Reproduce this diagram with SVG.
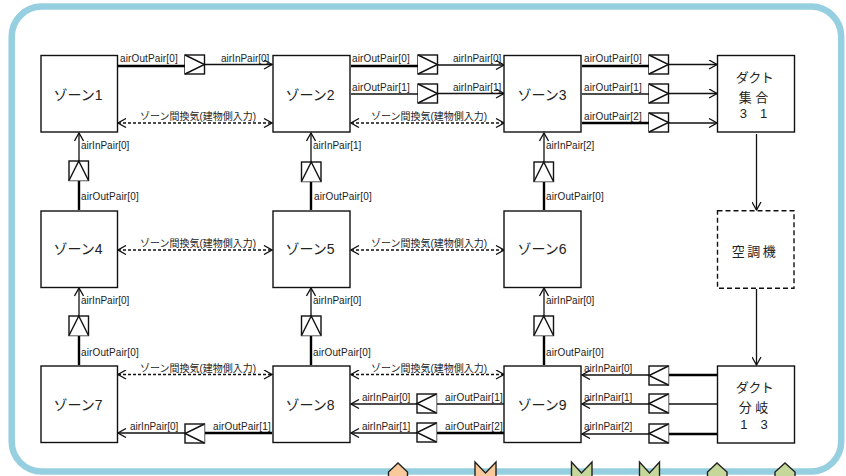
<svg xmlns="http://www.w3.org/2000/svg" width="846" height="476" viewBox="0 0 846 476">
<style>
text{font-family:"Liberation Sans","Noto Sans CJK JP",sans-serif;fill:#222}
.l{font-size:10px}
.u{font-size:10px;letter-spacing:.13px}
.n{font-size:14px;text-anchor:middle}
.s{font-size:13px;text-anchor:middle}
.box{fill:#fff;stroke:#111;stroke-width:1.4}
.v{fill:#fff;stroke:#111;stroke-width:1.4}
.c{fill:none;stroke:#111;stroke-width:1.3}
.t{fill:none;stroke:#000;stroke-width:2.4}
.d{fill:none;stroke:#111;stroke-width:1.3;stroke-dasharray:3 2;marker-start:url(#a);marker-end:url(#a)}
.a{marker-end:url(#a)}
.o{fill:#f9c99b;stroke:#222;stroke-width:1.4}
.g{fill:#c5d89a;stroke:#222;stroke-width:1.4}
</style>
<defs>
<marker id="a" viewBox="0 0 10 10" refX="9" refY="5" markerWidth="10" markerHeight="10" markerUnits="userSpaceOnUse" orient="auto-start-reverse"><path d="M1 0.500L9 5L1 9.500" fill="none" stroke="#111" stroke-width="1.300"/></marker>
<g id="vr"><rect class="v" x="0" y="0" width="19.500" height="19"/><path class="v" d="M0 0L19.500 9.500L0 19"/></g>
<g id="vl"><rect class="v" x="0" y="0" width="19.500" height="19"/><path class="v" d="M19.500 0L0 9.500L19.500 19"/></g>
<g id="vu"><rect class="v" x="0" y="0" width="19.500" height="19.500"/><path class="v" d="M0 19.500L9.750 0L19.500 19.500"/></g>
</defs>
<rect x="11.700" y="6.600" width="829.500" height="465" rx="30" fill="#fff" stroke="#96cfe0" stroke-width="6.500"/>
<g id="connectors">
<path class="t" d="M118 66H185"/><path class="c a" d="M205 64.500H272"/>
<path class="t" d="M351 66H418"/><path class="c a" d="M438 65H504"/>
<path class="c" d="M351 94H418"/><path class="c a" d="M438 93.500H504"/>
<path class="t" d="M582 66H649"/><path class="c a" d="M669 64.500H717"/>
<path class="c" d="M582 94H649"/><path class="c a" d="M669 93.500H717"/>
<path class="t" d="M582 123H649"/><path class="c a" d="M669 123H717"/>
<path class="d" d="M118 123H272"/><path class="d" d="M351 123H504"/>
<path class="d" d="M118 250H272"/><path class="d" d="M351 250H504"/>
<path class="d" d="M118 374.500H272"/><path class="d" d="M351 374.500H504"/>
<path class="t" d="M79 210V181"/><path class="c a" d="M79 161V133"/>
<path class="t" d="M311 210V182"/><path class="c a" d="M311 162V133"/>
<path class="t" d="M544 210V182"/><path class="c a" d="M544 162V133"/>
<path class="t" d="M79 365V336"/><path class="c a" d="M79 316V288"/>
<path class="t" d="M311 365V336"/><path class="c a" d="M311 316V288"/>
<path class="t" d="M544 365V336"/><path class="c a" d="M544 316V288"/>
<path class="c a" d="M756.500 134V210"/><path class="c a" d="M756.500 289V365"/>
<path class="t" d="M272 433H205"/><path class="c a" d="M185 433H118"/>
<path class="c" d="M504 404H437"/><path class="c a" d="M417 404H351"/>
<path class="t" d="M504 433H437"/><path class="c a" d="M417 433H351"/>
<path class="t" d="M717 375H669"/><path class="c a" d="M649 375H582"/>
<path class="c" d="M717 404H669"/><path class="c a" d="M649 404H582"/>
<path class="t" d="M717 434H669"/><path class="c a" d="M649 434H582"/>
<use href="#vr" x="185" y="55"/><use href="#vr" x="418" y="55"/><use href="#vr" x="418" y="84"/>
<use href="#vr" x="649" y="55"/><use href="#vr" x="649" y="84"/><use href="#vr" x="649" y="113"/>
<use href="#vu" x="69" y="161"/><use href="#vu" x="301.500" y="162"/><use href="#vu" x="534" y="162"/>
<use href="#vu" x="69" y="316"/><use href="#vu" x="301.500" y="316"/><use href="#vu" x="534" y="316"/>
<use href="#vl" x="185" y="424"/><use href="#vl" x="417" y="394"/><use href="#vl" x="417" y="423"/>
<use href="#vl" x="649" y="366"/><use href="#vl" x="649" y="394"/><use href="#vl" x="649" y="424"/>
<g>
<text class="u" x="120" y="62">airOutPair[0]</text><text class="l" x="221" y="62">airInPair[0]</text>
<text class="u" x="352" y="62">airOutPair[0]</text><text class="l" x="453" y="62">airInPair[0]</text>
<text class="u" x="352" y="91">airOutPair[1]</text><text class="l" x="453" y="91">airInPair[1]</text>
<text class="u" x="584" y="62">airOutPair[0]</text><text class="u" x="584" y="91">airOutPair[1]</text><text class="u" x="584" y="120">airOutPair[2]</text>
<text class="l" x="81" y="149">airInPair[0]</text><text class="l" x="313" y="149">airInPair[1]</text><text class="l" x="546" y="149">airInPair[2]</text>
<text class="u" x="81" y="200">airOutPair[0]</text><text class="u" x="314" y="200">airOutPair[0]</text><text class="u" x="546" y="200">airOutPair[0]</text>
<text class="l" x="81" y="304">airInPair[0]</text><text class="l" x="313" y="304">airInPair[0]</text><text class="l" x="546" y="304">airInPair[0]</text>
<text class="u" x="81" y="356">airOutPair[0]</text><text class="u" x="313" y="356">airOutPair[0]</text><text class="u" x="546" y="356">airOutPair[0]</text>
<text class="l" x="130" y="430">airInPair[0]</text><text class="u" x="213" y="430">airOutPair[1]</text>
<text class="l" x="362" y="401">airInPair[0]</text><text class="u" x="445" y="401">airOutPair[1]</text>
<text class="l" x="362" y="430">airInPair[1]</text><text class="u" x="445" y="430">airOutPair[2]</text>
<text class="l" x="584" y="372">airInPair[0]</text><text class="l" x="584" y="401">airInPair[1]</text><text class="l" x="584" y="430">airInPair[2]</text>
<text class="l" x="140" y="120">ゾーン間換気(建物側入力)</text><text class="l" x="371" y="120">ゾーン間換気(建物側入力)</text>
<text class="l" x="140" y="247">ゾーン間換気(建物側入力)</text><text class="l" x="371" y="247">ゾーン間換気(建物側入力)</text>
<text class="l" x="140" y="372">ゾーン間換気(建物側入力)</text><text class="l" x="371" y="372">ゾーン間換気(建物側入力)</text>
</g>
</g>
<g id="zone1"><rect class="box" x="41" y="55.500" width="76.500" height="76.500"/><text class="n" x="78" y="100">ゾーン1</text></g>
<g id="zone2"><rect class="box" x="273" y="55.500" width="77" height="76.500"/><text class="n" x="310" y="100">ゾーン2</text></g>
<g id="zone3"><rect class="box" x="504" y="55.500" width="77" height="76.500"/><text class="n" x="542" y="100">ゾーン3</text></g>
<g id="zone4"><rect class="box" x="41" y="211" width="76.500" height="76.500"/><text class="n" x="78" y="254">ゾーン4</text></g>
<g id="zone5"><rect class="box" x="273" y="211" width="77" height="76.500"/><text class="n" x="310" y="254">ゾーン5</text></g>
<g id="zone6"><rect class="box" x="504" y="211" width="77" height="76.500"/><text class="n" x="542" y="254">ゾーン6</text></g>
<g id="zone7"><rect class="box" x="41" y="366" width="76.500" height="76.500"/><text class="n" x="78" y="410">ゾーン7</text></g>
<g id="zone8"><rect class="box" x="273" y="366" width="77" height="76.500"/><text class="n" x="310" y="410">ゾーン8</text></g>
<g id="zone9"><rect class="box" x="504" y="366" width="77" height="76.500"/><text class="n" x="542" y="410">ゾーン9</text></g>
<g id="duct-merge"><rect class="box" x="717.500" y="55.500" width="77" height="76.500"/><text class="s" x="754.500" y="82" style="letter-spacing:-.5px">ダクト</text><text class="s" x="753.500" y="102">集 合</text><text class="s" x="753.500" y="118">3　1</text></g>
<g id="ahu"><rect class="box" x="717.500" y="210.700" width="76.500" height="77.500" stroke-dasharray="5 3"/><text class="s" x="755" y="255.500" style="letter-spacing:2.500px">空調機</text></g>
<g id="duct-split"><rect class="box" x="717.500" y="366" width="77" height="77"/><text class="s" x="754.500" y="392" style="letter-spacing:-.5px">ダクト</text><text class="s" x="753.500" y="412">分 岐</text><text class="s" x="754" y="429">1　3</text></g>
<g id="ports">
<path class="o" d="M388.500 477V472L398 463L407.500 472V477Z"/>
<path class="o" d="M475 477V462L485.500 473L496 462V477Z"/>
<path class="g" d="M571.500 477V462L581.500 473L592 462V477Z"/>
<path class="g" d="M639.500 477V462L649.500 473L659.500 462V477Z"/>
<path class="g" d="M707.500 477V472L717 463L727 472V477Z"/>
<path class="g" d="M775 477V472L785 463L795 472V477Z"/>
</g>
</svg>
